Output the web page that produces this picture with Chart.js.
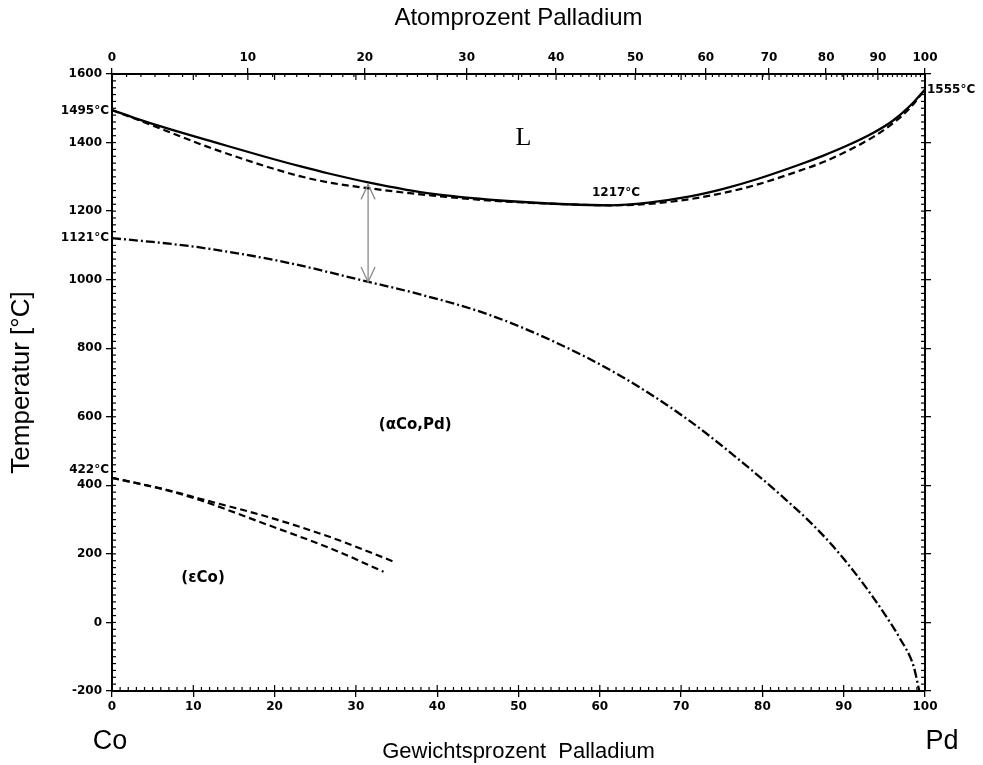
<!DOCTYPE html>
<html>
<head>
<meta charset="utf-8">
<script src="https://cdn.jsdelivr.net/npm/chart.js@4"></script>
<style>
  html, body { margin: 0; padding: 0; background: #fff; }
  #wrap { width: 983px; height: 765px; }
</style>
</head>
<body>
<div id="wrap"><canvas id="chart"></canvas></div>
<script>
// values (x = Gewichtsprozent Pd, y = °C)
const liquidusWt = [0, 3, 6.7, 12.9, 18.6, 23.1, 26.8, 31.5, 39.5, 47.7, 55.9, 61.3, 66, 71.1, 75.2, 79.3, 84.6, 87.5, 90.5, 93.6, 96, 98.2, 100];
const liquidusT = [1495, 1470, 1442, 1399, 1360, 1331, 1309, 1284, 1250, 1231, 1220, 1217, 1225, 1243, 1265, 1293, 1336, 1362, 1392, 1428, 1463, 1508, 1555];

const solidusWt = [0, 3, 6.7, 10.8, 12.9, 18.6, 23.1, 26.8, 31.5, 39.5, 47.7, 55.9, 61.3, 66, 71.1, 75.2, 79.3, 84.6, 87.5, 90.5, 93.6, 96, 98.2, 100];
const solidusT = [1495, 1468, 1434, 1396, 1378, 1333, 1302, 1283, 1267, 1245, 1229, 1220, 1217, 1221, 1235, 1253, 1277, 1318, 1343, 1376, 1416, 1455, 1502, 1555];

const curieWt = [0, 5, 10.8, 21.1, 31.3, 37.9, 46.1, 54.3, 62.5, 70.7, 78.9, 82.8, 85.9, 88.7, 91.6, 93.6, 95.3, 96.9, 98.6, 99.3];
const curieT = [1121, 1110, 1094, 1052, 995, 957, 900, 820, 720, 594, 440, 360, 292, 222, 138, 74, 15, -46, -128, -200];

const epsUpperWt = [0, 6.7, 10.8, 19, 27.2, 34.8];
const epsUpperT = [422, 387, 361, 309, 246, 176];
const epsLowerWt = [0, 6.7, 10.8, 19, 27.2, 33.4];
const epsLowerT = [422, 386, 357, 286, 213, 148];

const arrowWt = [31.5, 31.5];
const arrowT = [1278, 993];

const atTicks = [0, 10, 20, 30, 40, 50, 60, 70, 80, 90, 100];
const wtTicks = [0, 10, 20, 30, 40, 50, 60, 70, 80, 90, 100];
const tempTicks = [-200, 0, 200, 400, 600, 800, 1000, 1200, 1400, 1600];

// Atom-% -> Gewichts-% (Co 58.933, Pd 106.42)
function atToWt(a) {
  const pd = a * 106.42, co = (100 - a) * 58.933;
  return 100 * pd / (pd + co);
}

const pts = (xs, ys) => xs.map((x, i) => ({ x: x, y: ys[i] }));

const tickFont = { family: 'DejaVu Sans', size: 12, weight: 'bold' };

const notes = [
  { text: 'L', x: 50.6, y: 1414, font: '26px "Liberation Serif"', align: 'center' },
  { text: '(αCo,Pd)', x: 37.3, y: 577, font: 'bold 15px "DejaVu Sans"', align: 'center' },
  { text: '(εCo)', x: 11.2, y: 130, font: 'bold 15px "DejaVu Sans"', align: 'center' },
  { text: '1217°C', x: 62, y: 1217, dy: -12, font: 'bold 12px "DejaVu Sans"', align: 'center' },
  { text: '1495°C', x: 0, y: 1495, dx: -3, dy: 1, font: 'bold 12px "DejaVu Sans"', align: 'right' },
  { text: '1121°C', x: 0, y: 1121, dx: -3, font: 'bold 12px "DejaVu Sans"', align: 'right' },
  { text: '422°C', x: 0, y: 422, dx: -3, dy: -8, font: 'bold 12px "DejaVu Sans"', align: 'right' },
  { text: '1555°C', x: 100, y: 1555, dx: 2, font: 'bold 12px "DejaVu Sans"', align: 'left' }
];

const extras = {
  id: 'extras',
  afterDraw(chart) {
    const { ctx, chartArea: a, scales } = chart;
    const sx = scales.x, sy = scales.y;
    ctx.save();
    ctx.strokeStyle = '#000';
    ctx.lineWidth = 1.2;
    const seg = (x1, y1, x2, y2) => { ctx.beginPath(); ctx.moveTo(x1, y1); ctx.lineTo(x2, y2); ctx.stroke(); };

    // inward minor ticks
    for (let v = 0; v <= 100; v++) {
      const px = sx.getPixelForValue(v);
      seg(px, a.bottom, px, a.bottom - (v % 10 === 0 ? 6 : 4));
      const pt = sx.getPixelForValue(atToWt(v));
      seg(pt, a.top, pt, a.top + (v % 10 === 0 ? 6 : 3));
    }
    for (let v = 10; v < 100; v += 10) {
      const pt = sx.getPixelForValue(v);
      seg(pt, a.top, pt, a.top + 6);
    }
    for (let t = -200; t <= 1600; t += 20) {
      const py = sy.getPixelForValue(t);
      seg(a.left, py, a.left + 4, py);
      seg(a.right, py, a.right - 4, py);
    }

    // arrow heads
    ctx.strokeStyle = '#8a8a8a';
    ctx.lineWidth = 1.3;
    const ax = sx.getPixelForValue(arrowWt[0]);
    const ay1 = sy.getPixelForValue(arrowT[0]);
    const ay2 = sy.getPixelForValue(arrowT[1]);
    ctx.beginPath();
    ctx.moveTo(ax - 7, ay1 + 15); ctx.lineTo(ax, ay1); ctx.lineTo(ax + 7, ay1 + 15);
    ctx.moveTo(ax - 7, ay2 - 15); ctx.lineTo(ax, ay2); ctx.lineTo(ax + 7, ay2 - 15);
    ctx.stroke();

    // texts
    ctx.fillStyle = '#000';
    ctx.textBaseline = 'middle';
    notes.forEach(n => {
      ctx.font = n.font;
      ctx.textAlign = n.align;
      ctx.fillText(n.text, sx.getPixelForValue(n.x) + (n.dx || 0), sy.getPixelForValue(n.y) + (n.dy || 0));
    });
    ctx.font = '27px "Liberation Sans"';
    ctx.textAlign = 'center';
    ctx.fillText('Co', sx.getPixelForValue(0) - 2, 742);
    ctx.fillText('Pd', sx.getPixelForValue(100) + 17, 742);
    ctx.restore();
  }
};

const axisGrid = { drawOnChartArea: false, color: '#000', lineWidth: 1.3, tickLength: 6 };
const axisBorder = { display: true, color: '#000', width: 2 };
const plain = v => String(v);

new Chart(document.getElementById('chart'), {
  type: 'scatter',
  data: {
    datasets: [
      { label: 'Liquidus', data: pts(liquidusWt, liquidusT), borderColor: '#000', borderWidth: 2.3 },
      { label: 'Solidus', data: pts(solidusWt, solidusT), borderColor: '#000', borderWidth: 2.2, borderDash: [7, 4] },
      { label: 'Curie', data: pts(curieWt, curieT), borderColor: '#000', borderWidth: 2.3, borderDash: [9, 3, 2, 3] },
      { label: 'eps oben', data: pts(epsUpperWt, epsUpperT), borderColor: '#000', borderWidth: 2.2, borderDash: [7, 4] },
      { label: 'eps unten', data: pts(epsLowerWt, epsLowerT), borderColor: '#000', borderWidth: 2.2, borderDash: [7, 4] },
      { label: 'Pfeil', data: pts(arrowWt, arrowT), borderColor: '#8a8a8a', borderWidth: 1.3 }
    ]
  },
  options: {
    responsive: true,
    maintainAspectRatio: false,
    animation: false,
    showLine: true,
    elements: {
      point: { radius: 0, hoverRadius: 0 },
      line: { cubicInterpolationMode: 'monotone', fill: false }
    },
    layout: { padding: 0 },
    plugins: { legend: { display: false }, tooltip: { enabled: false } },
    scales: {
      x: {
        type: 'linear', position: 'bottom', min: 0, max: 100,
        afterBuildTicks: s => { s.ticks = wtTicks.map(v => ({ value: v })); },
        afterFit: s => { s.height = 74; },
        grid: axisGrid, border: axisBorder,
        ticks: { color: '#000', font: tickFont, padding: 3, maxRotation: 0, callback: plain },
        title: { display: true, text: 'Gewichtsprozent  Palladium', color: '#000',
                 font: { family: 'Liberation Sans', size: 22 }, padding: { top: 0, bottom: 0 } }
      },
      x2: {
        type: 'linear', position: 'top', min: 0, max: 100,
        afterBuildTicks: s => { s.ticks = atTicks.map(a => ({ value: atToWt(a) })); },
        afterFit: s => { s.height = 74; },
        grid: axisGrid, border: axisBorder,
        ticks: { color: '#000', font: tickFont, padding: 3, maxRotation: 0,
                 callback: (v, i) => String(atTicks[i]) },
        title: { display: true, text: 'Atomprozent Palladium', color: '#000',
                 font: { family: 'Liberation Sans', size: 24 }, padding: { top: 4, bottom: 0 } }
      },
      y: {
        type: 'linear', position: 'left', min: -200, max: 1600,
        afterBuildTicks: s => { s.ticks = tempTicks.map(v => ({ value: v })); },
        afterFit: s => { s.width = 112; },
        grid: axisGrid, border: axisBorder,
        ticks: { color: '#000', font: tickFont, padding: 4, callback: plain },
        title: { display: true, text: 'Temperatur [°C]', color: '#000',
                 font: { family: 'Liberation Sans', size: 26 }, padding: { top: 6, bottom: 0 } }
      },
      y2: {
        type: 'linear', position: 'right', min: -200, max: 1600,
        afterBuildTicks: s => { s.ticks = tempTicks.map(v => ({ value: v })); },
        afterFit: s => { s.width = 58; },
        grid: axisGrid, border: axisBorder,
        ticks: { callback: () => '' }
      }
    }
  },
  plugins: [extras]
});
</script>
</body>
</html>
